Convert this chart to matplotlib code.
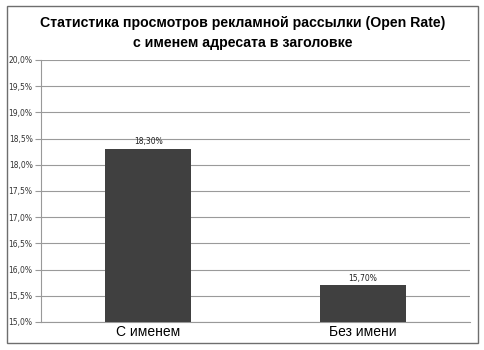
import matplotlib.pyplot as plt
from matplotlib.patches import Rectangle
from matplotlib.ticker import FuncFormatter

plt.rcParams['font.family'] = ['Liberation Sans', 'DejaVu Sans']

categories = ["С именем", "Без имени"]
open_rate = [18.30, 15.70]
y_min, y_max, y_step = 15.0, 20.0, 0.5

fig = plt.figure(figsize=(4.85, 3.5), dpi=100)
fig.patch.set_facecolor("white")
# outer chart frame
fig.patches.append(Rectangle((7 / 485, 7 / 350), 471 / 485, 337 / 350,
                             transform=fig.transFigure, fill=False,
                             edgecolor="#6e6e6e", linewidth=1.0))

ax = fig.add_axes([41 / 485, 28 / 350, 429 / 485, 262 / 350])
x = range(len(categories))
bars = ax.bar(x, [v - y_min for v in open_rate], bottom=y_min, width=0.4,
              color="#404040", zorder=3)

for i, v in enumerate(open_rate):
    ax.text(i, v + 0.05, f"{v:.2f}%".replace(".", ","), ha="center",
            va="bottom", fontsize=5.5, family=["DejaVu Sans"], color="#222222")

ax.set_xlim(-0.5, 1.5)
ax.set_ylim(y_min, y_max)
ticks = [y_min + i * y_step for i in range(11)]
ax.set_yticks(ticks)
ax.yaxis.set_major_formatter(FuncFormatter(lambda v, p: f"{v:.1f}%".replace(".", ",")))
ax.set_xticks(list(x))
ax.set_xticklabels(categories, fontsize=10)
ax.tick_params(axis="x", length=0, pad=2)
ax.tick_params(axis="y", length=4, width=0.8, color="#999999", labelsize=5.5,
               labelcolor="#333333", pad=2)
for lab in ax.get_yticklabels():
    lab.set_family(["DejaVu Sans"])

ax.grid(axis="y", color="#9a9a9a", linewidth=0.8, zorder=0)
for side in ["top", "right"]:
    ax.spines[side].set_visible(False)
ax.spines["left"].set_color("#999999")
ax.spines["bottom"].set_color("#999999")

fig.text(0.5, 1 - 33 / 350, "Статистика просмотров рекламной рассылки (Open Rate)\nс именем адресата в заголовке",
         ha="center", va="center", fontsize=10.2, fontweight="bold",
         linespacing=1.5)

fig.savefig("out.png", dpi=100)
